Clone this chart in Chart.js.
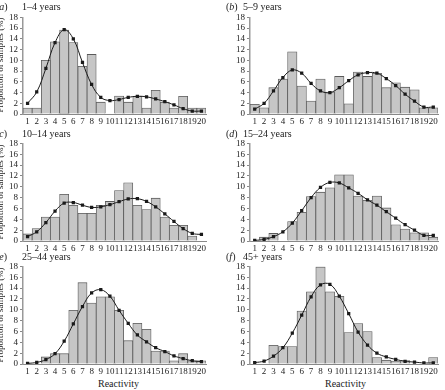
<!DOCTYPE html>
<html>
<head>
<meta charset="utf-8">
<script src="https://cdn.jsdelivr.net/npm/chart.js@4"></script>
<style>
  body { margin: 0; background: #fff; width: 445px; height: 390px; overflow: hidden; position: relative; font-family: "Liberation Serif", serif; color: #222; }
  .box { position: absolute; }
  .lbl { position: absolute; font-size: 10px; white-space: nowrap; line-height: 1; }
  .ytitle { position: absolute; font-size: 9px; white-space: nowrap; line-height: 1; transform: translate(-50%, -50%) rotate(-90deg); }
</style>
</head>
<body>

<div class="box" style="left:0px;top:10px;width:210px;height:118px"><canvas id="chA"></canvas></div>
<div class="box" style="left:227px;top:10px;width:215px;height:118px"><canvas id="chB"></canvas></div>
<div class="box" style="left:0px;top:136px;width:210px;height:119px"><canvas id="chC"></canvas></div>
<div class="box" style="left:227px;top:136px;width:215px;height:119px"><canvas id="chD"></canvas></div>
<div class="box" style="left:0px;top:259px;width:210px;height:119px"><canvas id="chE"></canvas></div>
<div class="box" style="left:227px;top:259px;width:215px;height:119px"><canvas id="chF"></canvas></div>

<div class="lbl" style="left:-4px;top:2px">(<i>a</i>)</div>
<div class="lbl" style="left:22px;top:2px">1–4 years</div>
<div class="lbl" style="left:226px;top:2px">(<i>b</i>)</div>
<div class="lbl" style="left:243px;top:2px">5–9 years</div>
<div class="lbl" style="left:-4px;top:129px">(<i>c</i>)</div>
<div class="lbl" style="left:22px;top:129px">10–14 years</div>
<div class="lbl" style="left:226px;top:129px">(<i>d</i>)</div>
<div class="lbl" style="left:243px;top:129px">15–24 years</div>
<div class="lbl" style="left:-4px;top:252px">(<i>e</i>)</div>
<div class="lbl" style="left:22px;top:252px">25–44 years</div>
<div class="lbl" style="left:226px;top:252px">(<i>f</i>)</div>
<div class="lbl" style="left:243px;top:252px">45+ years</div>

<div class="ytitle" style="left:0px;top:65px">Proportion of samples (%)</div>
<div class="ytitle" style="left:0px;top:192px">Proportion of samples (%)</div>
<div class="ytitle" style="left:0px;top:315px">Proportion of samples (%)</div>

<div class="lbl" style="left:98px;top:379px">Reactivity</div>
<div class="lbl" style="left:325px;top:379px">Reactivity</div>

<script>
let categories = ['1','2','3','4','5','6','7','8','9','10','11','12','13','14','15','16','17','18','19','20'];

// bars = observed, line = fitted
let barsA = [1.1, 1.1, 10, 13.45, 15.65, 13.3, 8.9, 11.1, 2.2, 0, 3.35, 2.2, 3.3, 1.1, 4.4, 2.2, 1.1, 3.3, 1.1, 1.1];
let lineA = [2.0, 4.1, 8.5, 13.3, 15.7, 14.0, 9.6, 5.5, 3.1, 2.5, 2.7, 3.1, 3.3, 3.2, 2.8, 2.3, 1.7, 1.0, 0.55, 0.55];

let barsB = [1.8, 1.15, 4.9, 6.5, 11.6, 5.2, 2.4, 6.5, 4.1, 7.0, 1.9, 7.8, 7.0, 7.6, 4.9, 5.8, 5.0, 4.5, 1.15, 1.15];
let lineB = [0.9, 2.0, 4.3, 6.8, 8.2, 7.6, 5.7, 4.3, 4.0, 4.9, 6.2, 7.3, 7.7, 7.6, 6.6, 5.3, 3.7, 2.4, 1.3, 1.3];

let barsC = [1.3, 2.3, 4.4, 4.4, 8.6, 6.6, 5.1, 5.1, 6.6, 7.3, 9.3, 10.75, 6.6, 5.8, 7.9, 4.4, 2.9, 2.9, 0.9, 0];
let lineC = [0.8, 1.7, 3.4, 5.5, 7.0, 7.1, 6.6, 6.2, 6.3, 6.7, 7.25, 7.75, 7.8, 7.3, 6.3, 5.0, 3.6, 2.3, 1.4, 1.2];

let barsD = [0, 0.7, 1.4, 0, 3.6, 5.3, 8.2, 9.0, 9.8, 12.2, 12.2, 8.3, 7.5, 8.3, 6.1, 3.0, 2.2, 1.5, 1.5, 0.7];
let lineD = [0.1, 0.3, 0.8, 1.7, 3.3, 5.6, 8.0, 9.9, 10.8, 10.7, 9.8, 8.8, 7.6, 6.6, 5.4, 4.2, 3.0, 2.0, 1.05, 1.05];

let barsE = [0, 0, 1.3, 1.9, 1.9, 9.9, 15.0, 11.25, 12.4, 12.4, 9.9, 4.3, 7.5, 6.4, 2.4, 2.4, 0.6, 1.9, 0.6, 0.6];
let lineE = [0.1, 0.3, 0.8, 1.9, 4.2, 7.4, 10.6, 13.1, 13.7, 12.5, 9.9, 7.5, 5.35, 4.1, 3.0, 2.3, 1.5, 1.0, 0.6, 0.45];

let barsF = [0, 0, 3.45, 3.2, 3.2, 9.75, 13.3, 17.9, 13.3, 12.5, 5.8, 7.45, 6.0, 1.2, 0.7, 0.55, 0.65, 0, 0, 1.2];
let lineF = [0.25, 0.55, 1.45, 3.0, 5.7, 9.0, 12.4, 14.6, 14.7, 12.5, 9.3, 5.9, 3.5, 2.0, 1.3, 0.85, 0.5, 0.35, 0.2, 0.2];

function drawPanel(id, bars, line) {
    return new Chart(document.getElementById(id), {
        type: 'bar',
        data: {
            labels: categories,
            datasets: [
                {
                    type: 'line',
                    data: line,
                    borderColor: '#1a1a1a',
                    borderWidth: 1,
                    tension: 0.4,
                    pointStyle: 'rect',
                    pointRadius: 2.3,
                    pointBackgroundColor: '#1a1a1a',
                    pointBorderWidth: 0,
                    order: 0
                },
                {
                    data: bars,
                    backgroundColor: '#c6c6c6',
                    borderColor: '#5a5a5a',
                    borderWidth: 0.8,
                    barPercentage: 1,
                    categoryPercentage: 1,
                    order: 1
                }
            ]
        },
        options: {
            responsive: true,
            maintainAspectRatio: false,
            animation: false,
            layout: { padding: { top: 7, right: 2, left: 0, bottom: 0 } },
            plugins: { legend: { display: false }, tooltip: { enabled: false } },
            scales: {
                x: {
                    grid: { display: false, drawTicks: false, tickLength: 0 },
                    border: { display: true, color: '#888', width: 1 },
                    ticks: { font: { family: 'Liberation Serif', size: 9 }, color: '#222', maxRotation: 0, autoSkip: false, padding: 2 },
                    afterFit: function (scale) { scale.height = 14; }
                },
                y: {
                    min: 0,
                    max: 18,
                    grid: { drawOnChartArea: false, tickLength: 3, color: '#888' },
                    border: { display: true, color: '#999', width: 1.5 },
                    ticks: { stepSize: 2, autoSkip: false, font: { family: 'Liberation Serif', size: 9 }, color: '#222', padding: 2 },
                    afterFit: function (scale) { scale.width = 23; }
                }
            }
        }
    });
}

drawPanel('chA', barsA, lineA);
drawPanel('chB', barsB, lineB);
drawPanel('chC', barsC, lineC);
drawPanel('chD', barsD, lineD);
drawPanel('chE', barsE, lineE);
drawPanel('chF', barsF, lineF);
</script>
</body>
</html>
